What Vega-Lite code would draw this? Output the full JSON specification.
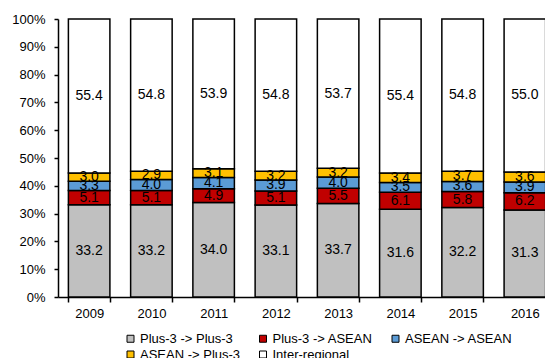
{
  "$schema": "https://vega.github.io/schema/vega-lite/v6.json",
  "width": 498,
  "height": 278,
  "autosize": {"type": "none"},
  "padding": {"left": 58, "top": 19, "right": 0, "bottom": 61},
  "config": {
    "font": "Liberation Sans",
    "view": {"stroke": null},
    "axis": {"domainColor": "black", "domainWidth": 1.5, "tickColor": "black", "tickWidth": 1.5, "labelColor": "black", "labelFontSize": 13, "grid": false, "title": null}
  },
  "data": {
    "values": [
      {"year": "2009", "cat": "Plus-3 -> Plus-3", "value": 33.2},
      {"year": "2009", "cat": "Plus-3 -> ASEAN", "value": 5.1},
      {"year": "2009", "cat": "ASEAN -> ASEAN", "value": 3.3},
      {"year": "2009", "cat": "ASEAN -> Plus-3", "value": 3.0},
      {"year": "2009", "cat": "Inter-regional", "value": 55.4},
      {"year": "2010", "cat": "Plus-3 -> Plus-3", "value": 33.2},
      {"year": "2010", "cat": "Plus-3 -> ASEAN", "value": 5.1},
      {"year": "2010", "cat": "ASEAN -> ASEAN", "value": 4.0},
      {"year": "2010", "cat": "ASEAN -> Plus-3", "value": 2.9},
      {"year": "2010", "cat": "Inter-regional", "value": 54.8},
      {"year": "2011", "cat": "Plus-3 -> Plus-3", "value": 34.0},
      {"year": "2011", "cat": "Plus-3 -> ASEAN", "value": 4.9},
      {"year": "2011", "cat": "ASEAN -> ASEAN", "value": 4.1},
      {"year": "2011", "cat": "ASEAN -> Plus-3", "value": 3.1},
      {"year": "2011", "cat": "Inter-regional", "value": 53.9},
      {"year": "2012", "cat": "Plus-3 -> Plus-3", "value": 33.1},
      {"year": "2012", "cat": "Plus-3 -> ASEAN", "value": 5.1},
      {"year": "2012", "cat": "ASEAN -> ASEAN", "value": 3.9},
      {"year": "2012", "cat": "ASEAN -> Plus-3", "value": 3.2},
      {"year": "2012", "cat": "Inter-regional", "value": 54.8},
      {"year": "2013", "cat": "Plus-3 -> Plus-3", "value": 33.7},
      {"year": "2013", "cat": "Plus-3 -> ASEAN", "value": 5.5},
      {"year": "2013", "cat": "ASEAN -> ASEAN", "value": 4.0},
      {"year": "2013", "cat": "ASEAN -> Plus-3", "value": 3.2},
      {"year": "2013", "cat": "Inter-regional", "value": 53.7},
      {"year": "2014", "cat": "Plus-3 -> Plus-3", "value": 31.6},
      {"year": "2014", "cat": "Plus-3 -> ASEAN", "value": 6.1},
      {"year": "2014", "cat": "ASEAN -> ASEAN", "value": 3.5},
      {"year": "2014", "cat": "ASEAN -> Plus-3", "value": 3.4},
      {"year": "2014", "cat": "Inter-regional", "value": 55.4},
      {"year": "2015", "cat": "Plus-3 -> Plus-3", "value": 32.2},
      {"year": "2015", "cat": "Plus-3 -> ASEAN", "value": 5.8},
      {"year": "2015", "cat": "ASEAN -> ASEAN", "value": 3.6},
      {"year": "2015", "cat": "ASEAN -> Plus-3", "value": 3.7},
      {"year": "2015", "cat": "Inter-regional", "value": 54.8},
      {"year": "2016", "cat": "Plus-3 -> Plus-3", "value": 31.3},
      {"year": "2016", "cat": "Plus-3 -> ASEAN", "value": 6.2},
      {"year": "2016", "cat": "ASEAN -> ASEAN", "value": 3.9},
      {"year": "2016", "cat": "ASEAN -> Plus-3", "value": 3.6},
      {"year": "2016", "cat": "Inter-regional", "value": 55.0}
    ]
  },
  "transform": [
    {"stack": "value", "groupby": ["year"], "offset": "normalize", "as": ["y0", "y1"]},
    {"calculate": "(datum.y0 + datum.y1) / 2", "as": "ymid"}
  ],
  "layer": [
    {
      "mark": {"type": "bar", "stroke": "black", "strokeWidth": 1.5},
      "encoding": {
        "x": {"field": "year", "type": "ordinal", "scale": {"paddingInner": 0.333, "paddingOuter": 0.167},
              "axis": {"labelAngle": 0, "tickBand": "extent", "tickSize": 5, "labelPadding": 5}},
        "y": {"field": "y0", "type": "quantitative", "scale": {"domain": [0, 1]},
              "axis": {"format": ".0%", "values": [0, 0.1, 0.2, 0.3, 0.4, 0.5, 0.6, 0.7, 0.8, 0.9, 1], "tickSize": 4, "labelPadding": 9, "labelOverlap": false, "labelFlush": false, "labelBound": false}},
        "y2": {"field": "y1"},
        "fill": {"field": "cat", "type": "nominal",
                 "scale": {"domain": ["Plus-3 -> Plus-3", "Plus-3 -> ASEAN", "ASEAN -> ASEAN", "ASEAN -> Plus-3", "Inter-regional"],
                           "range": ["#C0C0C0", "#C00000", "#5B9BD5", "#FFC000", "#FFFFFF"]},
                 "legend": {"orient": "none", "legendX": 66, "legendY": 313, "direction": "horizontal", "columns": 3,
                            "title": null, "symbolType": "square", "symbolSize": 49, "symbolStrokeColor": "black",
                            "symbolStrokeWidth": 1, "symbolOpacity": 1, "labelFontSize": 13, "labelColor": "black",
                            "labelOffset": 3, "gridAlign": "all", "columnPadding": 8.5, "rowPadding": 2, "labelLimit": 200}}
      }
    },
    {
      "mark": {"type": "text", "fontSize": 14, "color": "black"},
      "encoding": {
        "x": {"field": "year", "type": "ordinal",
              "axis": {"labelAngle": 0, "tickBand": "extent", "tickSize": 5, "labelPadding": 5}},
        "y": {"field": "ymid", "type": "quantitative",
              "axis": {"format": ".0%", "values": [0, 0.1, 0.2, 0.3, 0.4, 0.5, 0.6, 0.7, 0.8, 0.9, 1], "tickSize": 4, "labelPadding": 9, "labelOverlap": false, "labelFlush": false, "labelBound": false}},
        "text": {"field": "value", "type": "quantitative", "format": ".1f"}
      }
    }
  ]
}
